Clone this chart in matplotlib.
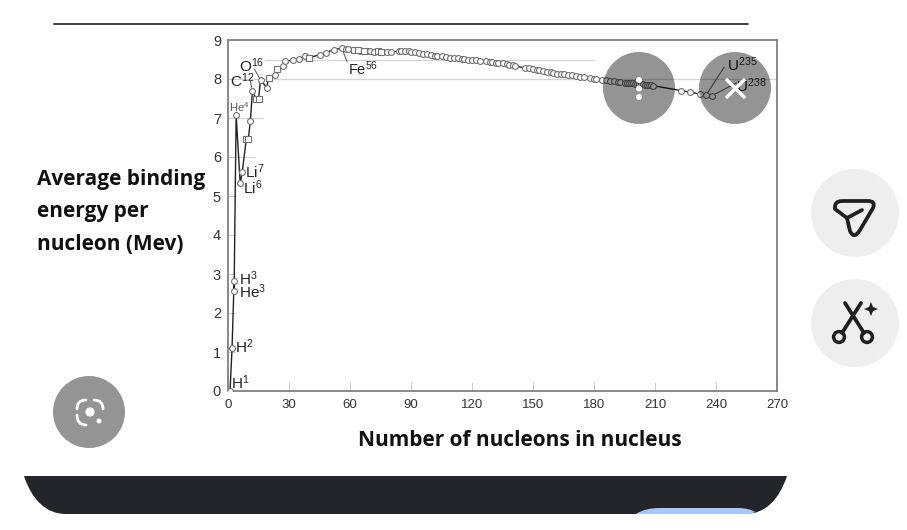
import matplotlib
matplotlib.use("Agg")
import matplotlib.pyplot as plt
from matplotlib.patches import Circle, PathPatch
from matplotlib.path import Path

plt.rcParams["font.family"] = "Liberation Sans"
plt.rcParams["mathtext.fontset"] = "custom"
plt.rcParams["mathtext.rm"] = "Liberation Sans"
plt.rcParams["mathtext.default"] = "rm"

# nucleon number and binding energy per nucleon (MeV)
mass_numbers = [
    1, 2, 3, 3, 4, 6, 7, 9, 10, 11, 12, 14, 15, 16, 19, 20, 23, 24, 27, 28,
    32, 35, 38, 40, 45, 48, 52, 56, 58, 59, 62, 64, 65, 67, 69, 70, 72, 74,
    75, 78, 80, 84, 85, 87, 89, 90, 92, 94, 96, 98, 100, 102, 103, 105, 107,
    109, 111, 113, 115, 116, 118, 120, 122, 124, 127, 129, 130, 132, 133,
    135, 137, 138, 140, 141, 146, 148, 150, 152, 153, 155, 157, 159, 160,
    162, 164, 165, 167, 169, 171, 173, 175, 178, 180, 181, 184, 186, 188,
    190, 192, 193, 195, 196, 197, 198, 199, 200, 201, 202, 203, 204, 205,
    206, 207, 208, 209, 223, 227, 232, 235, 238,
]
binding_energies = [
    0.0, 1.11, 2.83, 2.57, 7.07, 5.33, 5.61, 6.46, 6.46, 6.93, 7.68, 7.48,
    7.48, 7.98, 7.78, 8.03, 8.11, 8.26, 8.33, 8.45, 8.49, 8.52, 8.60, 8.55,
    8.62, 8.67, 8.75, 8.79, 8.76, 8.77, 8.75, 8.74, 8.73, 8.73, 8.72, 8.71,
    8.70, 8.71, 8.70, 8.68, 8.70, 8.71, 8.71, 8.72, 8.71, 8.70, 8.69, 8.67,
    8.65, 8.64, 8.62, 8.60, 8.59, 8.58, 8.56, 8.55, 8.54, 8.53, 8.52, 8.51,
    8.50, 8.48, 8.48, 8.46, 8.45, 8.44, 8.43, 8.42, 8.41, 8.40, 8.38, 8.37,
    8.35, 8.34, 8.28, 8.27, 8.25, 8.23, 8.22, 8.20, 8.18, 8.17, 8.16, 8.14,
    8.13, 8.12, 8.10, 8.09, 8.07, 8.06, 8.04, 8.02, 8.01, 8.00, 7.98, 7.97,
    7.96, 7.94, 7.93, 7.92, 7.91, 7.91, 7.90, 7.89, 7.89, 7.88, 7.87, 7.87,
    7.86, 7.86, 7.85, 7.85, 7.84, 7.84, 7.83, 7.70, 7.67, 7.61, 7.58, 7.57,
]
# nuclides drawn with a square marker instead of a circle
square_masses = [9, 10, 14, 15, 20, 24, 40, 62, 64, 67, 74, 75]

x_ticks = [0, 30, 60, 90, 120, 150, 180, 210, 240, 270]
y_ticks = [0, 1, 2, 3, 4, 5, 6, 7, 8, 9]

spine_gray = "#808080"
tick_gray = "#c8c8c8"

fig = plt.figure(figsize=(9.07, 5.30), dpi=100)
ax = fig.add_axes([228 / 907, 1 - 391 / 530, 549 / 907, 351 / 530])

ax.plot(mass_numbers, binding_energies, color="#222222", lw=1.0, zorder=3)

circle_x = [a for a in mass_numbers if a not in square_masses]
circle_y = [b for a, b in zip(mass_numbers, binding_energies) if a not in square_masses]
square_x = [a for a in mass_numbers if a in square_masses]
square_y = [b for a, b in zip(mass_numbers, binding_energies) if a in square_masses]
ax.plot(circle_x, circle_y, ls="none", marker="o", ms=4.2, mfc="white", mec="#707070", mew=0.8, zorder=4)
ax.plot(square_x, square_y, ls="none", marker="s", ms=3.8, mfc="white", mec="#707070", mew=0.8, zorder=4)

ax.set_xlim(0, 270)
ax.set_ylim(0, 9)
ax.set_xticks(x_ticks)
ax.set_yticks(y_ticks)
ax.tick_params(axis="x", direction="in", length=6.5, width=0.7, color=tick_gray,
               labelsize=9.5, labelcolor="#333333", pad=6)
ax.tick_params(axis="y", direction="in", length=5, width=0.7, color=tick_gray,
               labelsize=10.5, labelcolor="#333333", pad=5)
for side in ["top", "left", "bottom", "right"]:
    ax.spines[side].set_color(spine_gray)
    ax.spines[side].set_linewidth(1.3)

# partial reference lines behind the curve
ax.plot([0, 270], [8, 8], color="#d4d4d4", lw=0.9, zorder=1)
ax.plot([18, 180], [8.5, 8.5], color="#d4d4d4", lw=0.9, zorder=1)
ax.plot([0, 17], [7, 7], color="#d4d4d4", lw=0.9, zorder=1)
ax.plot([0, 13], [6, 6], color="#d4d4d4", lw=0.9, zorder=1)
ax.plot([0, 4], [5, 5], color="#d4d4d4", lw=0.9, zorder=1)


def isotope(text, x, y, point=None, size=10.5, color="#222222"):
    ax.text(x, y, text, fontsize=size, color=color, va="center", ha="left", zorder=5)
    if point:
        ax.plot([point[0], point[2]], [point[1], point[3]], color="#666666", lw=0.8, zorder=2)


isotope("He$^{4}$", 0.5, 7.28, size=8, color="#555555")
isotope("C$^{12}$", 1.2, 7.95, size=11, point=(11, 7.95, 12, 7.68))
isotope("O$^{16}$", 5.6, 8.33, size=11, point=(13, 8.25, 16, 7.98))
isotope("Fe$^{56}$", 59, 8.26, point=(58.5, 8.45, 56, 8.79))
isotope("Li$^{7}$", 8.2, 5.62, size=11)
isotope("Li$^{6}$", 7.6, 5.2, size=11)
isotope("H$^{3}$", 5.6, 2.87, size=11)
isotope("He$^{3}$", 5.6, 2.54, size=11)
isotope("H$^{2}$", 3.6, 1.13, size=11)
isotope("H$^{1}$", 1.6, 0.2, size=11)
isotope("U$^{235}$", 245.5, 8.36, size=11, point=(244, 8.3, 235, 7.58))
isotope("U$^{238}$", 250, 7.82, size=11, point=(250, 7.9, 238, 7.57))

# overlay in pixel coordinates for the captions and the screen furniture
ui = fig.add_axes([0, 0, 1, 1], zorder=10)
ui.set_xlim(0, 907)
ui.set_ylim(530, 0)
ui.axis("off")
ui.patch.set_alpha(0)

caption = dict(family="Open Sans", fontweight="bold", color="#111111", va="center", ha="left")
ui.text(37, 179, "Average binding", fontsize=15, **caption)
ui.text(37, 212, "energy per", fontsize=15, **caption)
ui.text(37, 244, "nucleon (Mev)", fontsize=15, **caption)
ui.text(358, 440, "Number of nucleons in nucleus", fontsize=15, **caption)

# top edge of the sheet
ui.plot([54, 748], [23.5, 23.5], color="#222222", lw=1.2, solid_capstyle="round")

# dark bar along the bottom
bar_verts = [(24, 476), (787, 476), (779, 500), (765, 514), (745, 514), (66, 514), (46, 514), (32, 500), (24, 476)]
bar_codes = [Path.MOVETO, Path.LINETO, Path.CURVE4, Path.CURVE4, Path.CURVE4, Path.LINETO, Path.CURVE4, Path.CURVE4, Path.CURVE4]
ui.add_patch(PathPatch(Path(bar_verts, bar_codes), fc="#24252a", ec="none"))
pill_verts = [(636, 514), (642, 510), (650, 508), (660, 508), (738, 508), (746, 508), (752, 510), (755, 512), (750, 514), (636, 514)]
pill_codes = [Path.MOVETO, Path.CURVE4, Path.CURVE4, Path.CURVE4, Path.LINETO, Path.CURVE4, Path.CURVE4, Path.CURVE4, Path.LINETO, Path.CLOSEPOLY]
ui.add_patch(PathPatch(Path(pill_verts, pill_codes), fc="#a8c7fa", ec="none"))

# translucent round buttons
for cx, cy in [(639, 88), (735, 88), (89, 412)]:
    ui.add_patch(Circle((cx, cy), 36, fc="black", alpha=0.42, ec="none"))

for dot_y in [80, 88.5, 97]:
    ui.add_patch(Circle((639, dot_y), 3.0, fc="white", ec="none"))
ui.plot([726, 745], [79, 98], color="white", lw=2.4, solid_capstyle="butt")
ui.plot([745, 726], [79, 98], color="white", lw=2.4, solid_capstyle="butt")


def curved(verts, **style):
    codes = [Path.MOVETO] + [Path.CURVE3] * (len(verts) - 1)
    ui.add_patch(PathPatch(Path(verts, codes), fc="none", capstyle="round", **style))


# lens icon
lens = dict(ec="white", lw=2.0)
curved([(77, 409), (77, 400), (86, 400)], **lens)
curved([(94, 400), (103, 400), (103, 409)], **lens)
curved([(77, 415), (77, 425), (86, 425)], **lens)
ui.add_patch(Circle((90, 412), 4.6, fc="white", ec="none"))
ui.add_patch(Circle((99, 421), 2.5, fc="white", ec="none"))

# light side buttons
ui.add_patch(Circle((855, 213), 44, fc="#eeeeee", ec="none"))
ui.add_patch(Circle((855, 323), 44, fc="#eeeeee", ec="none"))

# send icon: rounded triangle with a short inner stroke
send_verts = [(842, 201), (868, 201), (868, 201), (876, 201), (873, 208), (873, 208), (860, 230), (860, 230),
              (854, 240), (850, 231), (850, 231), (847, 218), (847, 218), (835, 209), (835, 209), (834, 201), (842, 201)]
send_codes = [Path.MOVETO] + [Path.LINETO, Path.LINETO, Path.CURVE3, Path.CURVE3, Path.LINETO, Path.LINETO, Path.LINETO,
                              Path.CURVE3, Path.CURVE3, Path.LINETO, Path.LINETO, Path.LINETO, Path.LINETO, Path.LINETO,
                              Path.CURVE3, Path.CURVE3]
ui.add_patch(PathPatch(Path(send_verts, send_codes), fc="none", ec="#1f1f1f", lw=2.7, joinstyle="round"))
icon = dict(color="#1f1f1f", lw=2.7, solid_capstyle="round")
ui.plot([847, 862], [218, 210], **icon)

# scissors icon with a sparkle
ui.plot([845, 864], [303, 333], **icon)
ui.plot([861, 842], [303, 333], **icon)
ui.add_patch(Circle((839, 337), 5.4, fc="none", ec="#1f1f1f", lw=2.5))
ui.add_patch(Circle((867, 337), 5.4, fc="none", ec="#1f1f1f", lw=2.5))
star_x = [871, 873, 878, 873, 871, 869, 864, 869, 871]
star_y = [302, 307, 309, 311, 316, 311, 309, 307, 302]
ui.fill(star_x, star_y, color="#1f1f1f", lw=0)

fig.savefig("out.png", dpi=100)
